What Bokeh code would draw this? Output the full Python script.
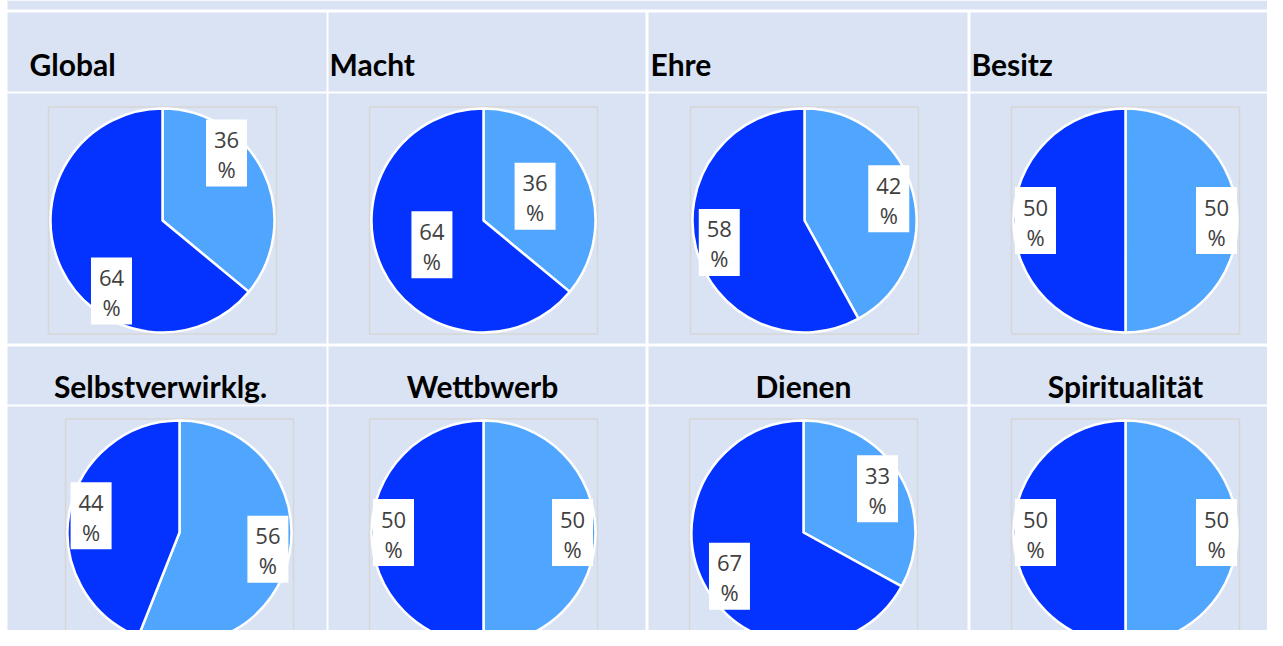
import math
from bokeh.plotting import figure
from bokeh.models import Range1d
from bokeh.core.properties import value
from bokeh.embed import file_html
from bokeh.resources import INLINE

# ---------------- data ----------------
titles = ["Global", "Macht", "Ehre", "Besitz",
          "Selbstverwirklg.", "Wettbwerb", "Dienen", "Spiritualität"]
share_light = [36, 36, 42, 50, 56, 50, 33, 50]
share_dark = [64, 64, 58, 50, 44, 50, 67, 50]

# ---------------- layout (reference pixel coordinates) ----------------
pie_cx = [162, 483, 804, 1125, 179, 483, 803, 1125]
pie_cy = [220, 220, 220, 220, 532, 532, 532, 532]
pie_r = 112
label_r_light = [93, 57, 87, 91, 90, 89, 86, 91]
label_r_dark = [87, 57, 88, 90, 90, 90, 86, 90]
label_shift_light = [-21.3, 0, 0, 0, 0, 0, 0, 0]   # degrees, best-fit nudges
label_shift_dark = [-28.9, 0, 0, 0, 0, 0, 0, 0]

col_left = [7, 328, 648, 970]
col_right = [326, 645, 967, 1283]
row_top = [12, 93, 346, 406]
row_bottom = [91, 343, 404, 646]

head1_x = [29, 329, 650, 971]
head1_base = 63
head2_x = [160, 482, 803, 1125]
head2_base = 385

BG = "#DAE3F3"
LIGHT = "#50A5FF"
DARK = "#0433FF"

W, H = 1267, 630
p = figure(width=W, height=H, x_range=Range1d(0, W), y_range=Range1d(-H, 0),
           output_backend="svg", toolbar_location=None, min_border=0,
           x_axis_type=None, y_axis_type=None)
p.grid.visible = False
p.outline_line_color = None
p.background_fill_color = "white"
p.border_fill_color = "white"

def Y(v):
    return -v

# top strip
p.quad(left=[7], right=[1283], top=[Y(0)], bottom=[Y(9)], fill_color=BG, line_color=None)
# table cells
ql, qr, qt, qb = [], [], [], []
for r in range(4):
    for c in range(4):
        ql.append(col_left[c]); qr.append(col_right[c])
        qt.append(Y(row_top[r])); qb.append(Y(row_bottom[r]))
p.quad(left=ql, right=qr, top=qt, bottom=qb, fill_color=BG, line_color=None)

# headers
p.text(x=head1_x, y=[Y(head1_base)] * 4, text=titles[:4],
       text_font=value("Lato"), text_font_style="bold", text_font_size="30px",
       text_color="black", text_align="left", text_baseline="alphabetic")
p.text(x=head2_x, y=[Y(head2_base)] * 4, text=titles[4:],
       text_font=value("Lato"), text_font_style="bold", text_font_size="30px",
       text_color="black", text_align="center", text_baseline="alphabetic")

# plot-area frames
p.rect(x=pie_cx, y=[Y(v) for v in pie_cy], width=228, height=227,
       fill_color=None, line_color="#D6D6D6", line_width=1.5)

# wedges
top = math.pi / 2
wx, wy, ws, we, wc = [], [], [], [], []
lx, ly, lt = [], [], []
for i in range(8):
    tot = share_light[i] + share_dark[i]
    f1 = share_light[i] / tot
    # light slice: clockwise from 12 o'clock
    wx.append(pie_cx[i]); wy.append(Y(pie_cy[i]))
    ws.append(top - 2 * math.pi * f1); we.append(top); wc.append(LIGHT)
    wx.append(pie_cx[i]); wy.append(Y(pie_cy[i]))
    ws.append(top - 2 * math.pi); we.append(top - 2 * math.pi * f1); wc.append(DARK)
    # labels
    mid1 = 360 * f1 / 2 + label_shift_light[i]
    mid2 = 360 * (f1 + (1 - f1) / 2) + label_shift_dark[i]
    for mid, rr, v in ((mid1, label_r_light[i], share_light[i]),
                       (mid2, label_r_dark[i], share_dark[i])):
        a = math.radians(mid)
        lx.append(pie_cx[i] + rr * math.sin(a))
        ly.append(pie_cy[i] - rr * math.cos(a))
        lt.append(str(v))

p.wedge(x=wx, y=wy, radius=pie_r, start_angle=ws, end_angle=we,
        fill_color=wc, line_color="white", line_width=2.5)

p.rect(x=lx, y=[Y(v) for v in ly], width=41, height=67, fill_color="white", line_color=None)
p.text(x=lx, y=[Y(v - 13) for v in ly], text=lt,
       text_font=value("Open Sans"), text_font_size="22px", text_color="#404040",
       text_align="center", text_baseline="middle")
p.text(x=lx, y=[Y(v + 16) for v in ly], text=["%"] * len(lx),
       text_font=value("Open Sans"), text_font_size="22px", text_color="#404040",
       text_align="center", text_baseline="middle")

open("out.html", "w").write(file_html(p, INLINE))
